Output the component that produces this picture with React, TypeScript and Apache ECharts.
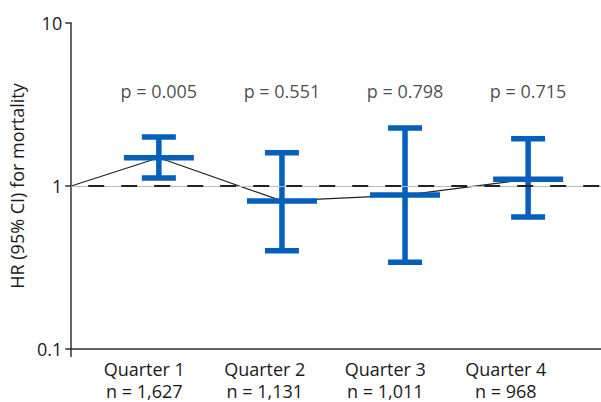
import React, { useEffect, useRef } from "react";
import * as echarts from "echarts";

const categories = ["Quarter 1", "Quarter 2", "Quarter 3", "Quarter 4"];
const sampleSizes = ["n = 1,627", "n = 1,131", "n = 1,011", "n = 968"];
const positions = [1, 2, 3, 4];
const hazardRatios = [1.49, 0.81, 0.88, 1.1];
const lowerCI = [1.12, 0.4, 0.34, 0.645];
const upperCI = [2.0, 1.6, 2.27, 1.95];
const pValueLabels = ["p = 0.005", "p = 0.551", "p = 0.798", "p = 0.715"];
const pLabelLevel = 3.84;
const referenceHR = 1;
const yTicks = [0.1, 1, 10];

const X_MIN = 0.288;
const X_MAX = 4.592;
const FONT = "'Open Sans', sans-serif";
const BLUE = "#0460BA";
const TEXT = "#1a1a1a";

export default function App() {
  const ref = useRef<HTMLDivElement>(null);
  useEffect(() => {
    if (!ref.current) return;
    const chart = echarts.init(ref.current, undefined, { renderer: "svg" });
    const errData = positions.map((p, i) => [p, lowerCI[i], hazardRatios[i], upperCI[i]]);
    const lineData = [[X_MIN, referenceHR], ...positions.map((p, i) => [p, hazardRatios[i]])];
    const pData = positions.map((p) => [p, pLabelLevel]);
    chart.setOption({
      animation: false,
      grid: [
        { left: 63, right: 0, top: 23, bottom: 53, containLabel: false },
        { left: 84, right: 35, top: 23, bottom: 53, containLabel: false },
      ],
      xAxis: [
        {
          type: "value",
          gridIndex: 0,
          min: X_MIN,
          max: X_MAX,
          axisLine: { show: true, onZero: false, lineStyle: { color: "#333", width: 1.5 } },
          axisTick: { show: true, customValues: [X_MIN], length: 8, lineStyle: { color: "#333", width: 1.5 } },
          splitLine: { show: false },
          axisLabel: { show: false },
        },
        {
          type: "category",
          gridIndex: 1,
          data: categories,
          boundaryGap: true,
          axisLine: { show: false },
          axisTick: { show: false },
          splitLine: { show: false },
          axisLabel: {
            interval: 0,
            hideOverlap: false,
            margin: 11,
            fontFamily: FONT,
            fontSize: 18,
            lineHeight: 22,
            color: TEXT,
            formatter: (v: string) => {
              const i = categories.indexOf(v);
              return v + "\n" + sampleSizes[i];
            },
          },
        },
      ],
      yAxis: [
        {
          type: "log",
          gridIndex: 0,
          logBase: 10,
          min: 0.1,
          max: 10,
          name: "HR (95% CI) for mortality",
          nameLocation: "middle",
          nameGap: 33,
          nameTextStyle: { fontFamily: FONT, fontSize: 18, color: TEXT },
          axisLine: { show: true, onZero: false, lineStyle: { color: "#333", width: 1.5 } },
          axisTick: { show: true, length: 6, customValues: yTicks, lineStyle: { color: "#333", width: 1.5 } },
          splitLine: { show: false },
          axisLabel: {
            customValues: yTicks,
            margin: 9,
            fontFamily: FONT,
            fontSize: 18,
            color: TEXT,
            formatter: (v: number) => String(v),
          },
        },
        {
          type: "value",
          gridIndex: 1,
          show: false,
        },
      ],
      series: [
        {
          type: "line",
          xAxisIndex: 0,
          yAxisIndex: 0,
          data: lineData,
          symbol: "none",
          lineStyle: { color: "#222", width: 1.2 },
          z: 2,
          markLine: {
            silent: true,
            symbol: "none",
            label: { show: false },
            data: [
              { yAxis: referenceHR, lineStyle: { color: "#bbb", width: 1, type: "solid" } },
              { yAxis: referenceHR, lineStyle: { color: "#222", width: 2, type: [16, 17], dashOffset: 16 } },
            ],
          },
        },
        {
          type: "custom",
          xAxisIndex: 0,
          yAxisIndex: 0,
          data: errData,
          z: 3,
          renderItem: (params: any, api: any) => {
            const x = api.value(0);
            const lo = api.coord([x, api.value(1)]);
            const mid = api.coord([x, api.value(2)]);
            const hi = api.coord([x, api.value(3)]);
            const style = { stroke: BLUE, lineWidth: 5.5, lineCap: "butt" };
            const capHalf = 17;
            const midHalf = 35;
            return {
              type: "group",
              children: [
                { type: "line", shape: { x1: hi[0], y1: hi[1], x2: lo[0], y2: lo[1] }, style },
                { type: "line", shape: { x1: hi[0] - capHalf, y1: hi[1], x2: hi[0] + capHalf, y2: hi[1] }, style },
                { type: "line", shape: { x1: lo[0] - capHalf, y1: lo[1], x2: lo[0] + capHalf, y2: lo[1] }, style },
                { type: "line", shape: { x1: mid[0] - midHalf, y1: mid[1], x2: mid[0] + midHalf, y2: mid[1] }, style },
              ],
            };
          },
        },
        {
          type: "scatter",
          xAxisIndex: 0,
          yAxisIndex: 0,
          data: pData,
          symbolSize: 0,
          label: {
            show: true,
            position: "inside",
            fontFamily: FONT,
            fontSize: 18,
            color: TEXT,
            formatter: (p: any) => pValueLabels[p.dataIndex],
          },
        },
      ],
    });
    return () => chart.dispose();
  }, []);
  return <div ref={ref} style={{ width: 601, height: 402, position: "absolute", left: 0, top: 0 }} />;
}
